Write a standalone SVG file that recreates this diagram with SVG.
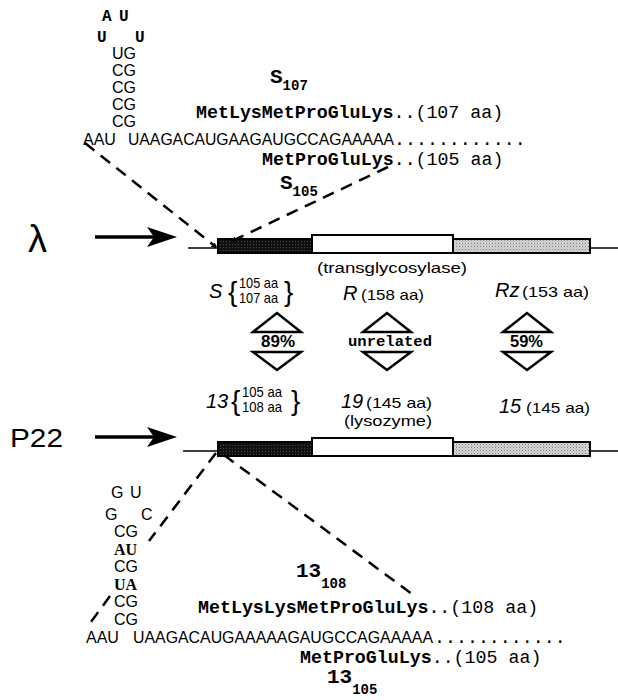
<svg xmlns="http://www.w3.org/2000/svg" width="618" height="700" viewBox="0 0 618 700">
  <defs>
    <style>
      .seq { font-family: "Liberation Sans", Arial, sans-serif; font-size: 16px; fill: #000; }
      .loop { font-family: "Liberation Mono", "Courier New", monospace; font-size: 16px; font-weight: bold; fill: #000; }
      .bpair { font-family: "Liberation Serif", "Times New Roman", serif; font-size: 16px; font-weight: bold; fill: #000; }
      .pep { font-family: "Liberation Mono", "Courier New", monospace; font-size: 18.3px; fill: #000; }
      .pep .b { font-weight: bold; }
      .prot { font-family: "Liberation Mono", "Courier New", monospace; font-weight: bold; fill: #000; }
      .gene { font-family: "Liberation Sans", Arial, sans-serif; font-style: italic; font-size: 20px; fill: #000; }
      .len { font-family: "Liberation Sans", Arial, sans-serif; font-size: 14.5px; fill: #000; }
      .sub { font-family: "Liberation Sans", Arial, sans-serif; font-size: 14.5px; fill: #000; }
      .brace { font-family: "Liberation Sans", Arial, sans-serif; font-size: 28px; fill: #000; }
      .func { font-family: "Liberation Sans", Arial, sans-serif; font-size: 15.5px; fill: #000; }
      .pct { font-family: "Liberation Sans", Arial, sans-serif; font-size: 16px; font-weight: bold; fill: #000; }
      .unrel { font-family: "Liberation Mono", "Courier New", monospace; font-size: 15.5px; font-weight: bold; fill: #000; }
      .phage { font-family: "Liberation Sans", Arial, sans-serif; fill: #000; }
      .dash { fill: none; stroke: #000; stroke-width: 2.5; stroke-dasharray: 12 8; }
      .dna { stroke: #000; stroke-width: 1.5; }
      .box { stroke: #000; stroke-width: 2; }
      .tri { fill: none; stroke: #000; stroke-width: 2.5; stroke-linejoin: miter; }
      .bigarrow { stroke: #000; stroke-width: 3.5; }
    </style>
    <pattern id="stipple" width="3" height="3" patternUnits="userSpaceOnUse">
      <rect width="3" height="3" fill="#d6d6d6"/>
      <rect width="1" height="1" fill="#7a7a7a"/>
      <rect x="1.5" y="1.5" width="1" height="1" fill="#9a9a9a"/>
    </pattern>
    <pattern id="darkstipple" width="3" height="3" patternUnits="userSpaceOnUse">
      <rect width="3" height="3" fill="#111"/>
      <rect x="1" y="1" width="1" height="1" fill="#444"/>
    </pattern>
    <marker id="tick" viewBox="0 0 10 10" refX="9" refY="5" markerWidth="5" markerHeight="5" orient="auto" markerUnits="userSpaceOnUse">
      <path d="M0,0 L10,5 L0,10" fill="none" stroke="#000" stroke-width="2"/>
    </marker>
  </defs>

  <!-- lambda S region: hairpin and sequence -->
  <g id="lambda-hairpin">
    <text class="loop" x="102" y="21">A</text>
    <text class="loop" x="119" y="21">U</text>
    <text class="loop" x="97" y="42">U</text>
    <text class="loop" x="135" y="42">U</text>
    <text class="seq" x="112" y="59">UG</text>
    <text class="seq" x="112" y="76">CG</text>
    <text class="seq" x="112" y="93">CG</text>
    <text class="seq" x="112" y="110">CG</text>
    <text class="seq" x="112" y="127">CG</text>
  </g>
  <g id="lambda-sequence">
    <text class="seq" x="83" y="145">AAU</text>
    <text class="seq" x="128" y="145" textLength="266" lengthAdjust="spacingAndGlyphs">UAAGACAUGAAGAUGCCAGAAAAA</text>
    <text class="pep" x="394" y="145">............</text>
  </g>
  <g id="lambda-S107">
    <text class="prot" x="270" y="83" font-size="21">S<tspan font-size="14" dy="7">107</tspan></text>
    <text class="pep" x="196" y="118"><tspan class="b">MetLysMetProGluLys</tspan>..(107 aa)</text>
  </g>
  <g id="lambda-S105">
    <text class="pep" x="262" y="165"><tspan class="b">MetProGluLys</tspan>..(105 aa)</text>
    <text class="prot" x="280" y="189" font-size="21">S<tspan font-size="14" dy="7">105</tspan></text>
  </g>

  <!-- lambda lysis genes -->
  <g id="lambda-genes">
    <text class="phage" x="28" y="252" font-size="38">λ</text>
    <line class="bigarrow" x1="95" y1="237" x2="162" y2="237"/>
    <path d="M177,237 L147,227 L154,237 L147,247 Z" fill="#000"/>
    <line class="dna" x1="188" y1="248" x2="618" y2="248"/>
    <rect class="box" x="218" y="239" width="94" height="14" fill="url(#darkstipple)"/>
    <rect class="box" x="312" y="235" width="141" height="18" fill="#fff"/>
    <rect class="box" x="453" y="239" width="137" height="14" fill="url(#stipple)"/>
    <text class="func" x="317" y="273" textLength="150" lengthAdjust="spacingAndGlyphs">(transglycosylase)</text>
  </g>
  <g id="lambda-labels">
    <text class="gene" x="209" y="298">S</text>
    <text class="brace" x="228" y="301">{</text>
    <text class="sub" x="239" y="288" textLength="39" lengthAdjust="spacingAndGlyphs">105 aa</text>
    <text class="sub" x="239" y="303" textLength="39" lengthAdjust="spacingAndGlyphs">107 aa</text>
    <text class="brace" x="284" y="301">}</text>
    <text class="gene" x="343" y="300">R</text>
    <text class="len" x="361" y="300" textLength="63" lengthAdjust="spacingAndGlyphs">(158 aa)</text>
    <text class="gene" x="495" y="297">Rz</text>
    <text class="len" x="522" y="297" textLength="67" lengthAdjust="spacingAndGlyphs">(153 aa)</text>
  </g>

  <!-- homology comparisons -->
  <g id="cmp-S-13">
    <path class="tri" d="M253,332 L277,313 L301,332 Z"/>
    <text class="pct" x="261" y="347" textLength="34" lengthAdjust="spacingAndGlyphs">89%</text>
    <path class="tri" d="M253,352 L277,370 L301,352 Z"/>
  </g>
  <g id="cmp-R-19">
    <path class="tri" d="M363,332 L387,313 L411,332 Z"/>
    <text class="unrel" x="348" y="346" textLength="84" lengthAdjust="spacingAndGlyphs">unrelated</text>
    <path class="tri" d="M363,352 L387,370 L411,352 Z"/>
  </g>
  <g id="cmp-Rz-15">
    <path class="tri" d="M503,332 L527,313 L551,332 Z"/>
    <text class="pct" x="510" y="347" textLength="33" lengthAdjust="spacingAndGlyphs">59%</text>
    <path class="tri" d="M503,352 L527,370 L551,352 Z"/>
  </g>

  <!-- P22 lysis genes -->
  <g id="p22-labels">
    <text class="gene" x="206" y="408">13</text>
    <text class="brace" x="231" y="410">{</text>
    <text class="sub" x="242" y="397" textLength="40" lengthAdjust="spacingAndGlyphs">105 aa</text>
    <text class="sub" x="242" y="412" textLength="40" lengthAdjust="spacingAndGlyphs">108 aa</text>
    <text class="brace" x="291" y="410">}</text>
    <text class="gene" x="341" y="408">19</text>
    <text class="len" x="366" y="408" textLength="66" lengthAdjust="spacingAndGlyphs">(145 aa)</text>
    <text class="func" x="344" y="426" textLength="88" lengthAdjust="spacingAndGlyphs">(lysozyme)</text>
    <text class="gene" x="499" y="413">15</text>
    <text class="len" x="526" y="413" textLength="64" lengthAdjust="spacingAndGlyphs">(145 aa)</text>
  </g>
  <g id="p22-genes">
    <text class="phage" x="10" y="447" font-size="25" textLength="53" lengthAdjust="spacingAndGlyphs">P22</text>
    <line class="bigarrow" x1="95" y1="437" x2="162" y2="437"/>
    <path d="M177,437 L147,427 L154,437 L147,447 Z" fill="#000"/>
    <line class="dna" x1="183" y1="451" x2="618" y2="451"/>
    <rect class="box" x="218" y="442" width="94" height="14" fill="url(#darkstipple)"/>
    <rect class="box" x="312" y="438" width="141" height="18" fill="#fff"/>
    <rect class="box" x="453" y="442" width="137" height="14" fill="url(#stipple)"/>
  </g>

  <!-- P22 13 region: hairpin and sequence -->
  <g id="p22-hairpin">
    <text class="seq" x="111" y="498">G</text>
    <text class="seq" x="130" y="498">U</text>
    <text class="seq" x="105" y="520">G</text>
    <text class="seq" x="141" y="520">C</text>
    <text class="seq" x="114" y="537">CG</text>
    <text class="bpair" x="114" y="555">AU</text>
    <text class="seq" x="114" y="572">CG</text>
    <text class="bpair" x="114" y="590">UA</text>
    <text class="seq" x="114" y="607">CG</text>
    <text class="seq" x="114" y="625">CG</text>
  </g>
  <g id="p22-sequence">
    <text class="seq" x="86" y="643">AAU</text>
    <text class="seq" x="133" y="643" textLength="300" lengthAdjust="spacingAndGlyphs">UAAGACAUGAAAAAGAUGCCAGAAAAA</text>
    <text class="pep" x="434" y="643">............</text>
  </g>
  <g id="p22-13-108">
    <text class="prot" x="296" y="577" font-size="21">13<tspan font-size="14" dy="11">108</tspan></text>
    <text class="pep" x="198" y="613"><tspan class="b">MetLysLysMetProGluLys</tspan>..(108 aa)</text>
  </g>
  <g id="p22-13-105">
    <text class="pep" x="300" y="663"><tspan class="b">MetProGluLys</tspan>..(105 aa)</text>
    <text class="prot" x="327" y="683" font-size="21">13<tspan font-size="14" dy="11">105</tspan></text>
  </g>

  <!-- expansion lines from the sequences to the first gene -->
  <g id="connectors">
    <line class="dash" x1="85" y1="143" x2="216" y2="247" marker-end="url(#tick)"/>
    <line class="dash" x1="388" y1="167" x2="232" y2="241" marker-end="url(#tick)"/>
    <line class="dash" x1="216" y1="453" x2="149" y2="541"/>
    <line class="dash" x1="110" y1="596" x2="88" y2="626"/>
    <line class="dash" x1="224" y1="455" x2="412" y2="594"/>
  </g>
</svg>
